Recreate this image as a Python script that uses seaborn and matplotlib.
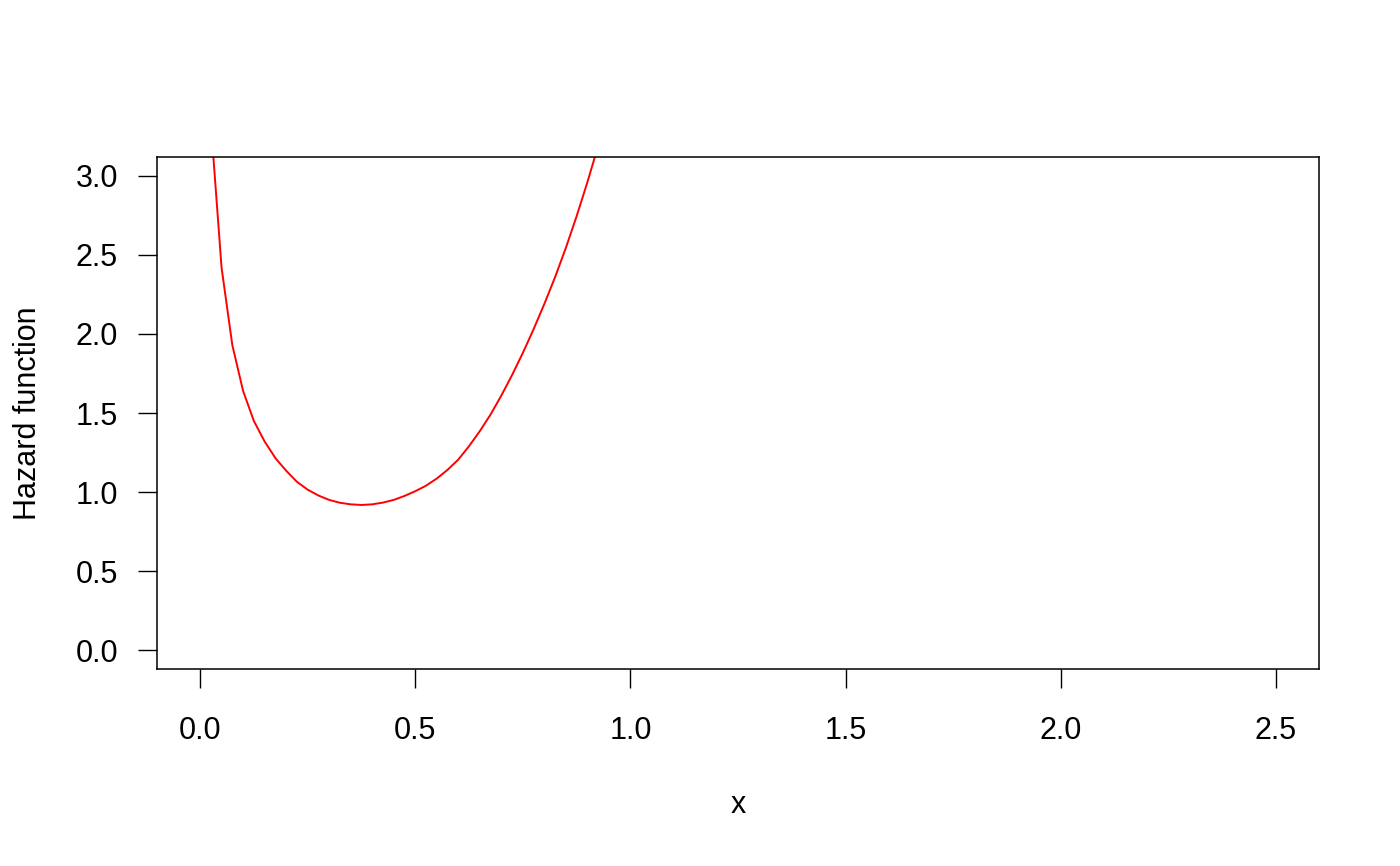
import numpy as np
import pandas as pd
import matplotlib
matplotlib.use("Agg")
import matplotlib.pyplot as plt
import seaborn as sns

# hazard curve (x step 0.025)
x_vals = [0.025, 0.05, 0.075, 0.1, 0.125, 0.15, 0.175, 0.2, 0.225, 0.25,
          0.275, 0.3, 0.325, 0.35, 0.375, 0.4, 0.425, 0.45, 0.475, 0.5,
          0.525, 0.55, 0.575, 0.6, 0.625, 0.65, 0.675, 0.7, 0.725, 0.75,
          0.775, 0.8, 0.825, 0.85, 0.875, 0.9, 0.925, 0.95, 0.975, 1.0]
hazard = [3.34, 2.42, 1.93, 1.64, 1.45, 1.32, 1.215, 1.135, 1.065, 1.015,
          0.978, 0.95, 0.932, 0.922, 0.918, 0.922, 0.933, 0.95, 0.975, 1.005,
          1.04, 1.085, 1.14, 1.205, 1.29, 1.385, 1.49, 1.61, 1.74, 1.88,
          2.03, 2.19, 2.36, 2.545, 2.745, 2.96, 3.19, 3.44, 3.71, 4.0]

x_ticks = [0.0, 0.5, 1.0, 1.5, 2.0, 2.5]
y_ticks = [0.0, 0.5, 1.0, 1.5, 2.0, 2.5, 3.0]

df = pd.DataFrame({"x": x_vals, "h": hazard})

sns.set_style("ticks")
plt.rcParams['font.family'] = ['Liberation Sans', 'DejaVu Sans']

fig = plt.figure(figsize=(14, 8.66), dpi=100)
ax = fig.add_axes([157 / 1400, 1 - 669 / 866, (1319 - 157) / 1400, (669 - 157) / 866])

sns.lineplot(data=df, x="x", y="h", color="#FF0000", linewidth=1.4, ax=ax)

ax.set_xlim(-0.1, 2.6)
ax.set_ylim(-0.12, 3.12)
ax.set_xticks(x_ticks)
ax.set_xticklabels([f"{t:.1f}" for t in x_ticks])
ax.set_yticks(y_ticks)
ax.set_yticklabels([f"{t:.1f}" for t in y_ticks])

for s in ax.spines.values():
    s.set_visible(True)
    s.set_color("black")
    s.set_linewidth(1.1)

ax.tick_params(axis="both", direction="out", length=14, width=1.0, colors="black",
               labelsize=22, labelcolor="black")
ax.tick_params(axis="x", pad=20)
ax.tick_params(axis="y", pad=14)

ax.set_xlabel("x", fontsize=22, color="black")
ax.set_ylabel("Hazard function", fontsize=22, color="black")
ax.xaxis.set_label_coords(0.5, -0.236)
ax.yaxis.set_label_coords(-0.098, 0.5)

fig.savefig("out.png", dpi=100, facecolor="white")
